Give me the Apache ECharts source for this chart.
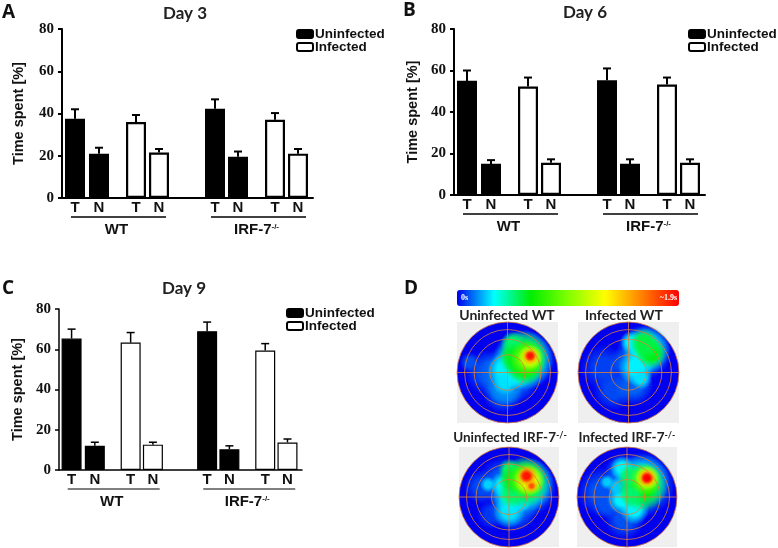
<!DOCTYPE html>
<html>
<head>
<meta charset="utf-8">
<style>
    html, body {margin: 0; padding: 0; background: #fff;}
    #chart {width: 778px; height: 548px;}
</style>
<script src="https://cdn.jsdelivr.net/npm/echarts@6/dist/echarts.min.js"></script>
</head>
<body>
<div id="chart"></div>
<script>
// values order: WT T, WT N, IRF-7 T, IRF-7 N
const day3Uninfected = [37.5, 21, 42.3, 19.5];
const day3UninfectedTop = [42, 23.8, 46.7, 22];
const day3Infected = [36, 21.5, 37, 21];
const day3InfectedTop = [39.3, 23.2, 40.2, 23.2];

const day6Uninfected = [55, 15, 55.3, 15];
const day6UninfectedTop = [60, 16.8, 61, 17.2];
const day6Infected = [52.3, 15.5, 53.2, 15.5];
const day6InfectedTop = [56.6, 17.2, 56.6, 17.2];

const day9Uninfected = [65.3, 12, 69, 10.3];
const day9UninfectedTop = [70, 13.8, 73.5, 12];
const day9Infected = [63.3, 12.6, 59.4, 13.7];
const day9InfectedTop = [68.3, 13.8, 62.8, 15.4];

const yTicks = {min: 0, max: 80, interval: 20};
const barLabels = ['T', 'N'];
const groupNames = ['WT', '{a|IRF-7}{b|-/-}'];

// heat spots of panel D: x, y, radius (disc radius = 1), dwell time in s
const spotsUninfectedWT = [
    [-0.75, 0.2, 0.2, 0.1], [-0.4, 0, 0.45, 0.1], [-0.1, -0.4, 0.4, 0.12],
    [0.05, -0.05, 0.6, 0.17], [-0.05, -0.3, 0.35, 0.18], [0.35, 0.25, 0.6, 0.22],
    [0.3, 0.25, 0.6, 0.34], [-0.05, 0.05, 0.35, 0.3], [-0.05, -0.2, 0.25, 0.28], [0.2, -0.02, 0.3, 0.3],
    [0.32, 0.32, 0.5, 0.62], [0.35, 0.12, 0.38, 0.62], [0.1, 0.58, 0.24, 0.5], [0.15, 0.3, 0.3, 0.6],
    [0.4, 0.28, 0.36, 0.9], [0.45, 0.3, 0.25, 1.2], [0.45, 0.32, 0.17, 1.55], [0.45, 0.33, 0.11, 1.85]
];
const spotsInfectedWT = [
    [-0.5, 0.1, 0.45, 0.08], [-0.3, -0.35, 0.4, 0.09], [0.1, -0.25, 0.4, 0.12], [0.3, 0.4, 0.55, 0.18], [-0.1, 0.2, 0.3, 0.1],
    [0.35, 0.45, 0.48, 0.33], [0.15, 0.1, 0.36, 0.3], [0.25, -0.12, 0.22, 0.28], [0.05, 0.6, 0.22, 0.3],
    [0.3, 0.6, 0.28, 0.55], [0.45, 0.38, 0.3, 0.62], [0.35, 0.5, 0.28, 0.55]
];
const spotsUninfectedIRF = [
    [-0.55, 0.2, 0.35, 0.09], [-0.35, -0.35, 0.3, 0.07], [-0.1, 0.3, 0.5, 0.12], [0.1, -0.2, 0.5, 0.14], [0.35, 0.2, 0.6, 0.2],
    [-0.42, 0.25, 0.16, 0.26], [0, -0.3, 0.32, 0.28], [0.05, 0.05, 0.42, 0.3], [-0.12, 0.25, 0.25, 0.3], [0.35, 0.25, 0.55, 0.33], [0.25, -0.1, 0.2, 0.28],
    [0.3, 0.3, 0.52, 0.62], [0, 0.55, 0.22, 0.5], [0.05, 0.05, 0.28, 0.5], [0.1, 0.35, 0.3, 0.6],
    [0.36, 0.35, 0.38, 0.9], [0.4, 0.33, 0.31, 1.2],
    [0.36, 0.42, 0.21, 1.55], [0.45, 0.22, 0.14, 1.5], [0.35, 0.42, 0.14, 1.85], [0.45, 0.22, 0.075, 1.7]
];
const spotsInfectedIRF = [
    [-0.5, 0.1, 0.5, 0.1], [-0.05, -0.45, 0.4, 0.1], [-0.4, -0.15, 0.3, 0.1], [0.3, 0.25, 0.65, 0.2], [-0.1, 0.5, 0.35, 0.15],
    [-0.1, 0.58, 0.24, 0.3], [-0.1, -0.05, 0.3, 0.3], [0.15, -0.25, 0.3, 0.3], [0.3, 0.3, 0.55, 0.33], [-0.4, 0.3, 0.15, 0.25], [-0.2, 0.2, 0.2, 0.25],
    [0.3, 0.2, 0.5, 0.62], [0.05, 0.42, 0.24, 0.5], [0.1, 0.05, 0.26, 0.5],
    [0.38, 0.35, 0.33, 0.9], [0.4, 0.38, 0.25, 1.2], [0.4, 0.38, 0.19, 1.55], [0.4, 0.38, 0.13, 1.9]
];

// layout only
const uninfectedSlots = [13, 37, 153, 176];
const infectedSlots = [74, 97, 213, 236];
const groupSpans = [[9, 104], [149, 244]];
const ringRadii = [0.35, 0.66, 0.85, 1];

const panels = [
    {left: 62, top: 29, width: 251, height: 169, nameGap: 36, lineW: 2, borderW: 2.2, legend: [296, 27],
        uninfected: day3Uninfected, uninfectedTop: day3UninfectedTop, infected: day3Infected, infectedTop: day3InfectedTop},
    {left: 454, top: 29, width: 251, height: 166, nameGap: 34, lineW: 2, borderW: 2.2, legend: [688, 27],
        uninfected: day6Uninfected, uninfectedTop: day6UninfectedTop, infected: day6Infected, infectedTop: day6InfectedTop},
    {left: 59, top: 309, width: 243, height: 161, nameGap: 34, lineW: 1.5, borderW: 1.2, legend: [286, 306],
        uninfected: day9Uninfected, uninfectedTop: day9UninfectedTop, infected: day9Infected, infectedTop: day9InfectedTop}
];
const discs = [
    {left: 457, top: 322, size: 101, spots: spotsUninfectedWT},
    {left: 578, top: 322, size: 101, spots: spotsInfectedWT},
    {left: 459, top: 447, size: 100, spots: spotsUninfectedIRF},
    {left: 577, top: 447, size: 100, spots: spotsInfectedIRF}
];

const sansBold = {fontFamily: 'Liberation Sans', fontWeight: 'bold', color: '#111'};
const headFont = {fontFamily: 'Lato', fontWeight: 'bold', color: '#222'};
const supRich = {
    a: {fontFamily: 'Lato', fontWeight: 'bold', fontSize: 13.5, color: '#222'},
    b: {fontFamily: 'Lato', fontWeight: 'bold', fontSize: 9, color: '#222', verticalAlign: 'top', padding: [0, 0, 4, 0]}
};

function titleAt(text, left, top, style, align) {
    return {text: text, left: left, top: top, padding: 0, textAlign: align || 'center', textStyle: style};
}

const titles = [
    titleAt('A', 2, 3, {fontFamily: 'Open Sans', fontWeight: 'bold', fontSize: 19, color: '#111'}, 'left'),
    titleAt('B', 403, 1, {fontFamily: 'Open Sans', fontWeight: 'bold', fontSize: 19, color: '#111'}, 'left'),
    titleAt('C', 2, 279, {fontFamily: 'Open Sans', fontWeight: 'bold', fontSize: 19, color: '#111'}, 'left'),
    titleAt('D', 404, 279, {fontFamily: 'Open Sans', fontWeight: 'bold', fontSize: 19, color: '#111'}, 'left'),
    titleAt('Day 3', 185, 5, {...headFont, fontSize: 17}),
    titleAt('Day 6', 585, 4, {...headFont, fontSize: 17}),
    titleAt('Day 9', 184, 280, {...headFont, fontSize: 17}),
    titleAt('Uninfected WT', 507, 308, {...headFont, fontSize: 14}),
    titleAt('Infected WT', 624, 308, {...headFont, fontSize: 14}),
    titleAt('{a|Uninfected IRF-7}{b|-/-}', 510, 431, {rich: supRich}),
    titleAt('{a|Infected IRF-7}{b|-/-}', 627, 431, {rich: supRich}),
    titleAt('0s', 461, 294, {fontFamily: 'Liberation Serif', fontWeight: 'bold', fontSize: 8, color: '#fff'}, 'left'),
    titleAt('~1.9s', 677, 294, {fontFamily: 'Liberation Serif', fontWeight: 'bold', fontSize: 8, color: '#fff'}, 'right')
];

const grids = [], xAxes = [], yAxes = [], legends = [], series = [];

function errorBars(axis, slots, values, tops) {
    return {
        type: 'custom', xAxisIndex: axis, yAxisIndex: axis, z: 1, silent: true,
        data: slots.map((s, i) => [s, values[i], tops[i]]),
        encode: {x: 0, y: [1, 2]},
        renderItem: function (params, api) {
            const bottom = api.coord([api.value(0), api.value(1)]);
            const top = api.coord([api.value(0), api.value(2)]);
            const style = {stroke: '#000', lineWidth: panels[axis].lineW};
            return {
                type: 'group',
                children: [
                    {type: 'line', shape: {x1: bottom[0], y1: bottom[1], x2: top[0], y2: top[1]}, style: style},
                    {type: 'line', shape: {x1: top[0] - 4, y1: top[1], x2: top[0] + 4, y2: top[1]}, style: style}
                ]
            };
        }
    };
}

function barLabelSeries(axis, slots) {
    return {
        type: 'custom', xAxisIndex: axis, yAxisIndex: axis, silent: true,
        data: slots.map(s => [s, 0]),
        encode: {x: 0, y: 1},
        renderItem: function (params, api) {
            const p = api.coord([api.value(0), 0]);
            return {
                type: 'text',
                style: {
                    text: barLabels[params.dataIndex % 2], x: p[0], y: p[1] + 9.5,
                    align: 'center', verticalAlign: 'middle',
                    font: 'bold 15px "Liberation Sans"', fill: '#111'
                }
            };
        }
    };
}

function groupSeries(axis) {
    return {
        type: 'custom', xAxisIndex: axis, yAxisIndex: axis, silent: true,
        data: groupSpans.map(s => [s[0], s[1], 0]),
        encode: {x: [0, 1], y: 2},
        renderItem: function (params, api) {
            const a = api.coord([api.value(0), 0]);
            const b = api.coord([api.value(1), 0]);
            return {
                type: 'group',
                children: [
                    {type: 'line', shape: {x1: a[0], y1: a[1] + 19, x2: b[0], y2: a[1] + 19},
                        style: {stroke: '#000', lineWidth: panels[axis].lineW - 0.3}},
                    {type: 'text', style: {
                        text: groupNames[params.dataIndex], x: (a[0] + b[0]) / 2 - 2, y: a[1] + 32,
                        align: 'center', verticalAlign: 'middle',
                        font: 'bold 15px "Liberation Sans"', fill: '#111',
                        rich: {
                            a: {font: 'bold 15px "Liberation Sans"', fill: '#111'},
                            b: {font: 'bold 8px "Liberation Sans"', fill: '#111', verticalAlign: 'top', padding: [0, 0, 6, 0]}
                        }
                    }}
                ]
            };
        }
    };
}

panels.forEach(function (p, i) {
    grids.push({left: p.left, top: p.top, width: p.width, height: p.height});
    xAxes.push({
        gridIndex: i, type: 'value', min: 0, max: 251,
        axisLine: {show: true, lineStyle: {color: '#000', width: p.lineW}},
        axisTick: {show: false}, axisLabel: {show: false}, splitLine: {show: false}
    });
    yAxes.push({
        gridIndex: i, type: 'value', min: yTicks.min, max: yTicks.max, interval: yTicks.interval,
        name: 'Time spent [%]', nameLocation: 'middle', nameGap: p.nameGap,
        nameTextStyle: {...sansBold, fontSize: 14.5},
        axisLine: {show: true, lineStyle: {color: '#000', width: p.lineW}},
        axisTick: {show: true, length: 4, lineStyle: {color: '#000', width: p.lineW}},
        axisLabel: {margin: 8, fontFamily: 'Liberation Serif', fontWeight: 'bold', fontSize: 15, color: '#111'},
        splitLine: {show: false}
    });
    legends.push({
        left: p.legend[0], top: p.legend[1], orient: 'vertical', padding: 0, itemGap: -1,
        itemWidth: 16, itemHeight: 8, selectedMode: false,
        data: ['Uninfected', 'Infected'],
        textStyle: {...sansBold, fontSize: 13.5, padding: [0, 0, 0, -3]}
    });
    series.push({
        name: 'Uninfected', type: 'bar', xAxisIndex: i, yAxisIndex: i, barWidth: 20, barGap: '-100%', z: 2,
        itemStyle: {color: '#000', borderColor: '#000', borderWidth: p.borderW},
        data: uninfectedSlots.map((s, k) => [s, p.uninfected[k]])
    });
    series.push({
        name: 'Infected', type: 'bar', xAxisIndex: i, yAxisIndex: i, barWidth: 20, barGap: '-100%', z: 2,
        itemStyle: {color: '#fff', borderColor: '#000', borderWidth: p.borderW},
        data: infectedSlots.map((s, k) => [s, p.infected[k]])
    });
    series.push(errorBars(i, uninfectedSlots, p.uninfected, p.uninfectedTop));
    series.push(errorBars(i, infectedSlots, p.infected, p.infectedTop));
    series.push(barLabelSeries(i, uninfectedSlots.slice(0, 2).concat(infectedSlots.slice(0, 2), uninfectedSlots.slice(2), infectedSlots.slice(2))));
    series.push(groupSeries(i));
});

// panel D discs: blue disc, blurred heat spots coloured by the visualMap, then the rings
const spotSeriesIndex = [];
discs.forEach(function (d, n) {
    const axis = panels.length + n;
    grids.push({left: d.left, top: d.top, width: d.size, height: d.size, show: true, backgroundColor: '#efefef', borderWidth: 0});
    xAxes.push({gridIndex: axis, type: 'value', min: -1, max: 1, show: false});
    yAxes.push({gridIndex: axis, type: 'value', min: -1, max: 1, show: false});

    series.push({
        type: 'custom', xAxisIndex: axis, yAxisIndex: axis, silent: true, z: 1,
        data: [[0, 0]], encode: {x: 0, y: 1},
        renderItem: function (params, api) {
            const c = api.coord([0, 0]);
            return {type: 'circle', shape: {cx: c[0], cy: c[1], r: api.size([1, 0])[0]}, style: {fill: '#0000ee'}};
        }
    });

    spotSeriesIndex.push(series.length);
    series.push({
        type: 'custom', xAxisIndex: axis, yAxisIndex: axis, silent: true, z: 2,
        data: d.spots, encode: {x: 0, y: 1},
        renderItem: function (params, api) {
            const c = api.coord([api.value(0), api.value(1)]);
            const color = api.visual('color');
            return {
                type: 'circle',
                shape: {cx: c[0], cy: c[1], r: api.size([api.value(2), 0])[0]},
                style: {
                    fill: {
                        type: 'radial', x: 0.5, y: 0.5, r: 0.5,
                        colorStops: [
                            {offset: 0, color: color},
                            {offset: 0.4, color: color},
                            {offset: 1, color: echarts.color.modifyAlpha(color, 0)}
                        ]
                    }
                }
            };
        }
    });

    series.push({
        type: 'custom', xAxisIndex: axis, yAxisIndex: axis, silent: true, z: 3,
        data: ringRadii.map(r => [r, 0]), encode: {x: 0, y: 1},
        renderItem: function (params, api) {
            const c = api.coord([0, 0]);
            const r = api.size([api.value(0), 0])[0];
            const style = {stroke: 'rgba(224,128,56,0.8)', lineWidth: 1, fill: 'none'};
            const children = [{type: 'circle', shape: {cx: c[0], cy: c[1], r: r}, style: style}];
            if (params.dataIndex === ringRadii.length - 1) {
                children.push({type: 'line', shape: {x1: c[0] - r, y1: c[1], x2: c[0] + r, y2: c[1]}, style: style});
                children.push({type: 'line', shape: {x1: c[0], y1: c[1] - r, x2: c[0], y2: c[1] + r}, style: style});
            }
            return {type: 'group', children: children};
        }
    });
});

const chart = echarts.init(document.getElementById('chart'));
chart.setOption({
    backgroundColor: '#fff',
    animation: false,
    title: titles,
    grid: grids,
    xAxis: xAxes,
    yAxis: yAxes,
    legend: legends,
    visualMap: {
        type: 'continuous', min: 0, max: 1.9, dimension: 3, seriesIndex: spotSeriesIndex,
        orient: 'horizontal', left: 457, top: 290, itemWidth: 16, itemHeight: 222, padding: 0,
        text: null, calculable: false, hoverLink: false, showLabel: false, realtime: false,
        inRange: {color: ['#0000ee', '#00ffff', '#00ee00', '#80ff00', '#ffff00', '#ff8000', '#ff0000']}
    },
    series: series
});
</script>
</body>
</html>
